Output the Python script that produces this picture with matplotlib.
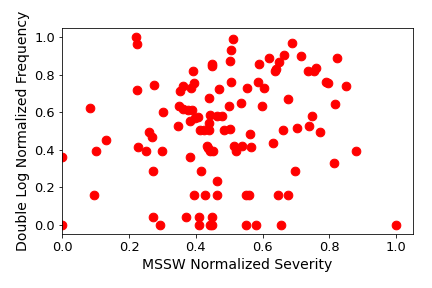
import numpy as np
import matplotlib
matplotlib.use('Agg')
import matplotlib.pyplot as plt

# severity (x) and frequency (y)
severity = [0.0, 0.0, 0.082, 0.10, 0.096, 0.131, 0.22, 0.223, 0.223, 0.227,
            0.251, 0.259, 0.27, 0.275, 0.273, 0.273, 0.292, 0.30, 0.303, 0.347,
            0.349, 0.354, 0.361, 0.361, 0.371, 0.377, 0.382, 0.384, 0.386, 0.389,
            0.391, 0.393, 0.395, 0.397, 0.406, 0.41, 0.41, 0.412, 0.416, 0.424,
            0.426, 0.432, 0.436, 0.439, 0.439, 0.44, 0.442, 0.441, 0.443, 0.449,
            0.449, 0.449, 0.449, 0.45, 0.464, 0.464, 0.464, 0.47, 0.477, 0.484,
            0.498, 0.501, 0.503, 0.506, 0.506, 0.51, 0.515, 0.519, 0.535, 0.539,
            0.549, 0.549, 0.554, 0.558, 0.562, 0.566, 0.579, 0.586, 0.59, 0.597,
            0.605, 0.619, 0.63, 0.637, 0.639, 0.646, 0.649, 0.656, 0.661, 0.664,
            0.677, 0.677, 0.688, 0.697, 0.704, 0.716, 0.735, 0.74, 0.747, 0.755,
            0.761, 0.772, 0.79, 0.797, 0.815, 0.817, 0.823, 0.848, 0.879, 1.0]
frequency = [0.0, 0.36, 0.624, 0.396, 0.159, 0.453, 1.0, 0.966, 0.72, 0.415,
             0.396, 0.497, 0.469, 0.747, 0.287, 0.041, 0.0, 0.396, 0.602, 0.528,
             0.631, 0.715, 0.738, 0.619, 0.041, 0.61, 0.556, 0.364, 0.731, 0.61,
             0.822, 0.754, 0.159, 0.57, 0.574, 0.0, 0.041, 0.506, 0.287, 0.506,
             0.159, 0.419, 0.408, 0.506, 0.542, 0.677, 0.394, 0.0, 0.583, 0.0,
             0.041, 0.859, 0.847, 0.394, 0.159, 0.234, 0.578, 0.725, 0.578, 0.506,
             0.635, 0.513, 0.873, 0.934, 0.763, 0.993, 0.419, 0.394, 0.649, 0.419,
             0.0, 0.159, 0.731, 0.159, 0.485, 0.415, 0.0, 0.763, 0.859, 0.631,
             0.731, 0.891, 0.437, 0.818, 0.832, 0.159, 0.866, 0.0, 0.506, 0.906,
             0.672, 0.159, 0.971, 0.287, 0.517, 0.902, 0.818, 0.528, 0.581, 0.818,
             0.834, 0.497, 0.763, 0.754, 0.33, 0.642, 0.891, 0.742, 0.396, 0.0]

fig, ax = plt.subplots(figsize=(6, 4), dpi=72)
fig.subplots_adjust(left=0.144, right=0.956, top=0.903, bottom=0.187)

ax.scatter(severity, frequency, s=75, c='red')
ax.set_xlim(0, 1.05)
ax.set_ylim(-0.05, 1.05)
ax.set_xticks(np.arange(0, 1.01, 0.2))
ax.set_yticks(np.arange(0, 1.01, 0.2))
ax.tick_params(labelsize=13)
ax.set_xlabel('MSSW Normalized Severity', fontsize=14)
ax.set_ylabel('Double Log Normalized Frequency', fontsize=14)

plt.savefig('out.png')
